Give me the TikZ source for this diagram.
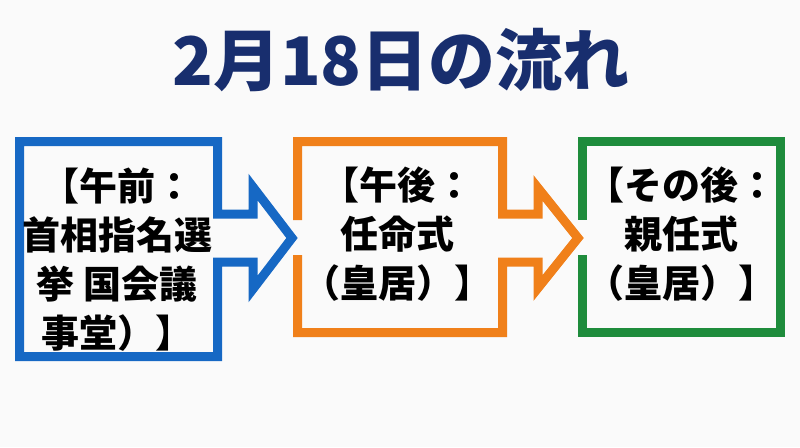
\documentclass[tikz,border=0pt]{standalone}
\usepackage{fontspec}
\newfontfamily\jpb{Noto Sans CJK JP}[UprightFont={* Black}]
\definecolor{navy}{RGB}{24,46,110}
\definecolor{boxblue}{RGB}{22,104,196}
\definecolor{boxorange}{RGB}{240,128,26}
\definecolor{boxgreen}{RGB}{30,140,60}
\definecolor{bg}{RGB}{250,250,250}
\tikzset{
  outline/.style={line width=9pt, line join=miter, miter limit=10},
  label/.style={font=\jpb\fontsize{38}{49}\selectfont, align=center, text=black, inner sep=0pt},
}
\begin{document}
\begin{tikzpicture}[x=1pt,y=-1pt]
\fill[bg] (0,0) rectangle (800,447);
\useasboundingbox (0,0) rectangle (800,447);
% title
\node[font=\jpb\fontsize{67}{72}\selectfont, text=navy, inner sep=0pt] (title) at (401,60) {2月18日の流れ};
% blue box with arrow
\draw[outline, boxblue] (217.5,262) -- (217.5,356.5) -- (19.5,356.5) -- (19.5,141.5) -- (217.5,141.5) -- (217.5,214) -- (253,214) -- (253,187) -- (292,238) -- (253,289) -- (253,262) -- cycle;
% orange box with arrow
\draw[outline, boxorange] (297.5,255) -- (297.5,332.5) -- (502.5,332.5) -- (502.5,262) -- (538,262) -- (538,288) -- (578,238) -- (538,188) -- (538,214) -- (502.5,214) -- (502.5,141.5) -- (297.5,141.5) -- (297.5,220);
% green box
\draw[outline, boxgreen] (582.5,255) -- (582.5,332.5) -- (780.5,332.5) -- (780.5,141.5) -- (582.5,141.5) -- (582.5,220);
% texts
\node[label] (am) at (117,260) {【午前：\\首相指名選\\挙 国会議\\事堂）】};
\node[label] (pm) at (397,234) {【午後：\\任命式\\（皇居）】};
\node[label] (after) at (681.5,234) {【その後：\\親任式\\（皇居）】};
\end{tikzpicture}
\end{document}
